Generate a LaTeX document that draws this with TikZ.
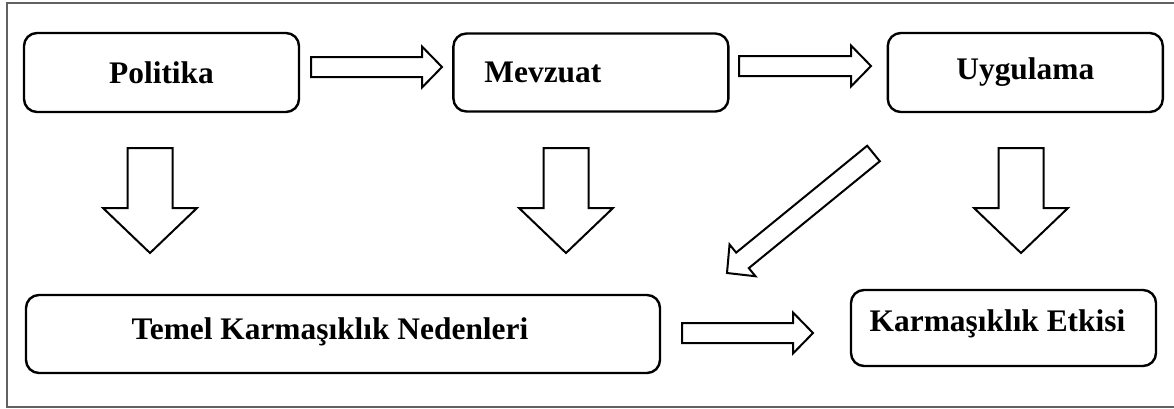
\documentclass[tikz,border=0pt]{standalone}
\usepackage{fontspec}
\setmainfont{Liberation Serif}
\usetikzlibrary{positioning,calc}

\tikzset{
  boxtext/.style={font=\fontsize{15.7}{18}\selectfont\bfseries},
  box/.style={draw, line width=1.2pt, rounded corners=6.5pt, inner sep=0pt, boxtext},
  barrow/.style={draw, fill=white, line width=1pt, line join=miter},
  frame/.style={draw=black!62, line width=1pt}
}

\newcommand\blockarrow[5]{%
  \coordinate (ba) at ($(#2)!#5!(#1)$);
  \draw[barrow] ($(#1)!#3!90:(#2)$) -- ($(ba)!#3!90:(#2)$) -- ($(ba)!#4!90:(#2)$) -- (#2)
    -- ($(ba)!#4!-90:(#2)$) -- ($(ba)!#3!-90:(#2)$) -- ($(#1)!#3!-90:(#2)$) -- cycle;
}

\begin{document}
\begin{tikzpicture}[x=0.5pt, y=-0.5pt]
  \useasboundingbox (0,0) rectangle (1174,408);
  \draw[frame] (7,3) rectangle (1176,407);

  \node[box, minimum width=137.5pt, minimum height=39.5pt] (pol) at (161.5,72.5) {Politika};
  \node[box, minimum width=137.5pt, minimum height=39pt, right=76pt of pol,
        label={[boxtext, xshift=-24pt]center:Mevzuat}] (mev) {};
  \node[box, minimum width=137.5pt, minimum height=39.5pt, right=78.5pt of mev] (uyg) {Uygulama};
  \node[box, minimum width=317pt, minimum height=39pt, 
        label={[boxtext, xshift=-6.5pt, yshift=1pt]center:Temel Karmaşıklık Nedenleri}] (tem) at (343,334) {};
  \node[box, minimum width=152.5pt, minimum height=38pt,
        label={[boxtext, xshift=-3pt, yshift=2pt]center:Karmaşıklık Etkisi}] (etk) at (1003.5,328) {};

  \coordinate (pm1) at (311,67);
  \coordinate (pm2) at (442,67);
  \coordinate (mu1) at (739,66);
  \coordinate (mu2) at (871,66);
  \coordinate (te1) at (682,333);
  \coordinate (te2) at (813,333);
  \coordinate (ut1) at (873.5,153.5);
  \coordinate (ut2) at (727,273);
  \coordinate (pt1) at (150,148);
  \coordinate (pt2) at (150,253);
  \coordinate (mt1) at (566,148);
  \coordinate (mt2) at (566,253);
  \coordinate (ue1) at (1021,148);
  \coordinate (ue2) at (1021,253);

  \blockarrow{pm1}{pm2}{5pt}{10.25pt}{10pt}
  \blockarrow{mu1}{mu2}{5pt}{10.25pt}{10pt}
  \blockarrow{te1}{te2}{5pt}{10.25pt}{10pt}
  \blockarrow{ut1}{ut2}{5pt}{10.25pt}{10pt}
  \blockarrow{pt1}{pt2}{11.25pt}{23.5pt}{22.5pt}
  \blockarrow{mt1}{mt2}{11.25pt}{23.5pt}{22.5pt}
  \blockarrow{ue1}{ue2}{11.25pt}{23.5pt}{22.5pt}
\end{tikzpicture}
\end{document}
